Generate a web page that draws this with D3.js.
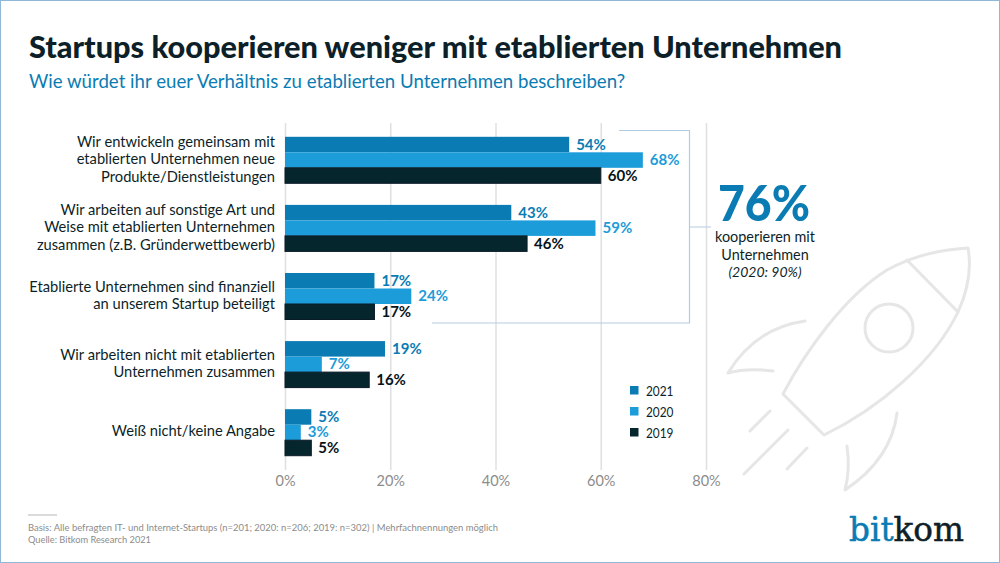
<!DOCTYPE html>
<html>
<head>
<meta charset="utf-8">
<script src="https://cdn.jsdelivr.net/npm/d3@7"></script>
<style>
  html, body { margin: 0; padding: 0; background: #fff; }
  svg { display: block; }
  text { font-family: Lato, "Open Sans", sans-serif; }
  .domain { display: none; }
</style>
</head>
<body>
<svg id="chart" width="1000" height="563"></svg>
<script>
var categories = [
  ['Wir entwickeln gemeinsam mit', 'etablierten Unternehmen neue', 'Produkte/Dienstleistungen'],
  ['Wir arbeiten auf sonstige Art und', 'Weise mit etablierten Unternehmen', 'zusammen (z.B. Gründerwettbewerb)'],
  ['Etablierte Unternehmen sind finanziell', 'an unserem Startup beteiligt'],
  ['Wir arbeiten nicht mit etablierten', 'Unternehmen zusammen'],
  ['Weiß nicht/keine Angabe']
];
var years = ['2021', '2020', '2019'];
var values2021 = [54, 43, 17, 19, 5];
var values2020 = [68, 59, 24, 7, 3];
var values2019 = [60, 46, 17, 16, 5];
var xTicks = [0, 20, 40, 60, 80];
var seriesColors = ['#0a7cb3', '#1c9cd9', '#06262e'];
var seriesEdges = ['none', 'none', '#0b1b26'];
var labelColors = ['#0a7cb3', '#1c9cd9', '#06141a'];
var series = [values2021, values2020, values2019];

var svg = d3.select('#chart');
var ink = '#0d1f28';

// frame
svg.append('rect').attr('x', 0.5).attr('y', 0.5).attr('width', 999).attr('height', 562)
  .attr('fill', '#fff').attr('stroke', '#8fb8d8').attr('stroke-width', 1);

// rocket in the background
var rocket = svg.append('g').attr('fill', 'none').attr('stroke', '#e6e6e6')
  .attr('stroke-width', 3).attr('stroke-linecap', 'round').attr('stroke-linejoin', 'round');
rocket.append('path').attr('d', 'M783,394 C805,352 845,296 887,270 C915,255 940,250 968,248 C972,270 968,290 958,312 C935,360 880,408 824,435 Z');
rocket.append('path').attr('d', 'M907,260 L958,312');
rocket.append('circle').attr('cx', 889).attr('cy', 328).attr('r', 24);
rocket.append('path').attr('d', 'M805,321 C770,326 745,345 728,373 C742,369 758,369 773,371');
rocket.append('path').attr('d', 'M897,413 C893,445 875,470 845,490 C849,475 849,460 847,446');
rocket.append('path').attr('d', 'M770,411 L750,431 M788,430 L744,474 M807,448 L787,469');

var x = d3.scaleLinear().domain([0, 80]).range([285, 706]);
var y = d3.scaleBand().domain(d3.range(categories.length)).range([126, 466.5]);
var barH = 15.5;
var inner = d3.scaleBand().domain(d3.range(years.length)).range([0, barH * 3]);

// axis with gridlines
var axis = svg.append('g').attr('transform', 'translate(0,470)')
  .call(d3.axisBottom(x).tickValues(xTicks).tickSize(-347).tickPadding(6).tickFormat(function (d) { return d + '%'; }));
axis.selectAll('line').attr('stroke', '#e0e0e0').attr('stroke-width', 1.5);
axis.selectAll('text').attr('fill', '#8c8c8c').attr('font-size', 14.5);

// bracket around the cooperating answers
svg.append('path').attr('fill', 'none').attr('stroke', '#b3cbe2').attr('stroke-width', 1.2)
  .attr('d', 'M619,130.5 H689.5 V323 H432 M689.5,227 H711');

var groups = svg.selectAll('g.cat').data(categories).enter().append('g').attr('class', 'cat')
  .attr('transform', function (d, i) { return 'translate(0,' + (y(i) + (y.bandwidth() - barH * 3) / 2) + ')'; });

groups.each(function (lines, i) {
  var g = d3.select(this);
  series.forEach(function (vals, s) {
    g.append('rect').attr('x', x(0)).attr('y', inner(s))
      .attr('width', x(vals[i]) - x(0)).attr('height', barH).attr('fill', seriesColors[s])
      .attr('stroke', seriesEdges[s]);
    g.append('text').attr('x', x(vals[i]) + 7).attr('y', inner(s) + barH / 2 + 5)
      .attr('font-size', 15).attr('font-weight', 700).attr('fill', labelColors[s])
      .text(vals[i] + '%');
  });
  var start = barH * 1.5 + 4 - (lines.length - 1) * 8.75;
  lines.forEach(function (line, k) {
    g.append('text').attr('x', 275).attr('y', start + k * 17.5).attr('text-anchor', 'end')
      .attr('font-size', 14.7).attr('fill', ink).text(line);
  });
});

// legend
var legend = svg.selectAll('g.leg').data(years).enter().append('g').attr('class', 'leg')
  .attr('transform', function (d, i) { return 'translate(630,' + (386 + i * 21) + ')'; });
legend.append('rect').attr('width', 8.5).attr('height', 8.5).attr('fill', function (d, i) { return seriesColors[i]; });
legend.append('text').attr('x', 16).attr('y', 9.5).attr('font-size', 13.5).attr('fill', ink)
  .attr('textLength', 27.5).attr('lengthAdjust', 'spacingAndGlyphs').text(function (d) { return d; });

// title
svg.append('text').attr('x', 29).attr('y', 58).attr('font-size', 31).attr('font-weight', 900).attr('fill', ink)
  .attr('textLength', 813).attr('lengthAdjust', 'spacingAndGlyphs')
  .text('Startups kooperieren weniger mit etablierten Unternehmen');
svg.append('text').attr('x', 29).attr('y', 88).attr('font-size', 18.5).attr('fill', '#0a7cb3')
  .attr('textLength', 596).attr('lengthAdjust', 'spacingAndGlyphs')
  .text('Wie würdet ihr euer Verhältnis zu etablierten Unternehmen beschreiben?');

// callout
svg.append('text').attr('x', 718).attr('y', 221).attr('font-size', 50)
  .attr('font-weight', 900).attr('fill', '#0a7cb3')
  .attr('textLength', 92).attr('lengthAdjust', 'spacingAndGlyphs').text('76%');
svg.append('text').attr('x', 765).attr('y', 242).attr('text-anchor', 'middle').attr('font-size', 14.4).attr('fill', ink).text('kooperieren mit');
svg.append('text').attr('x', 765).attr('y', 260).attr('text-anchor', 'middle').attr('font-size', 14.4).attr('fill', ink).text('Unternehmen');
svg.append('text').attr('x', 765).attr('y', 277).attr('text-anchor', 'middle').attr('font-size', 14).attr('font-style', 'italic').attr('fill', ink).text('(2020: 90%)');

// footer
svg.append('line').attr('x1', 28).attr('x2', 57).attr('y1', 515).attr('y2', 515).attr('stroke', '#b5b5b5');
svg.append('text').attr('x', 28).attr('y', 531).attr('font-size', 9.5).attr('fill', '#8c8c8c')
  .attr('textLength', 470).attr('lengthAdjust', 'spacingAndGlyphs')
  .text('Basis: Alle befragten IT- und Internet-Startups (n=201; 2020: n=206; 2019: n=302) | Mehrfachnennungen möglich');
svg.append('text').attr('x', 28).attr('y', 543).attr('font-size', 9.5).attr('fill', '#8c8c8c')
  .attr('textLength', 123).attr('lengthAdjust', 'spacingAndGlyphs')
  .text('Quelle: Bitkom Research 2021');

// logo
var logo = svg.append('text').attr('x', 849).attr('y', 541).style('font-size', '34px')
  .style('font-family', '"DejaVu Serif", serif').attr('stroke-width', 0.5)
  .attr('textLength', 115).attr('lengthAdjust', 'spacingAndGlyphs');
logo.append('tspan').attr('fill', '#0a7cb3').attr('stroke', '#0a7cb3').text('bit');
logo.append('tspan').attr('fill', ink).attr('stroke', ink).text('kom');
</script>
</body>
</html>
